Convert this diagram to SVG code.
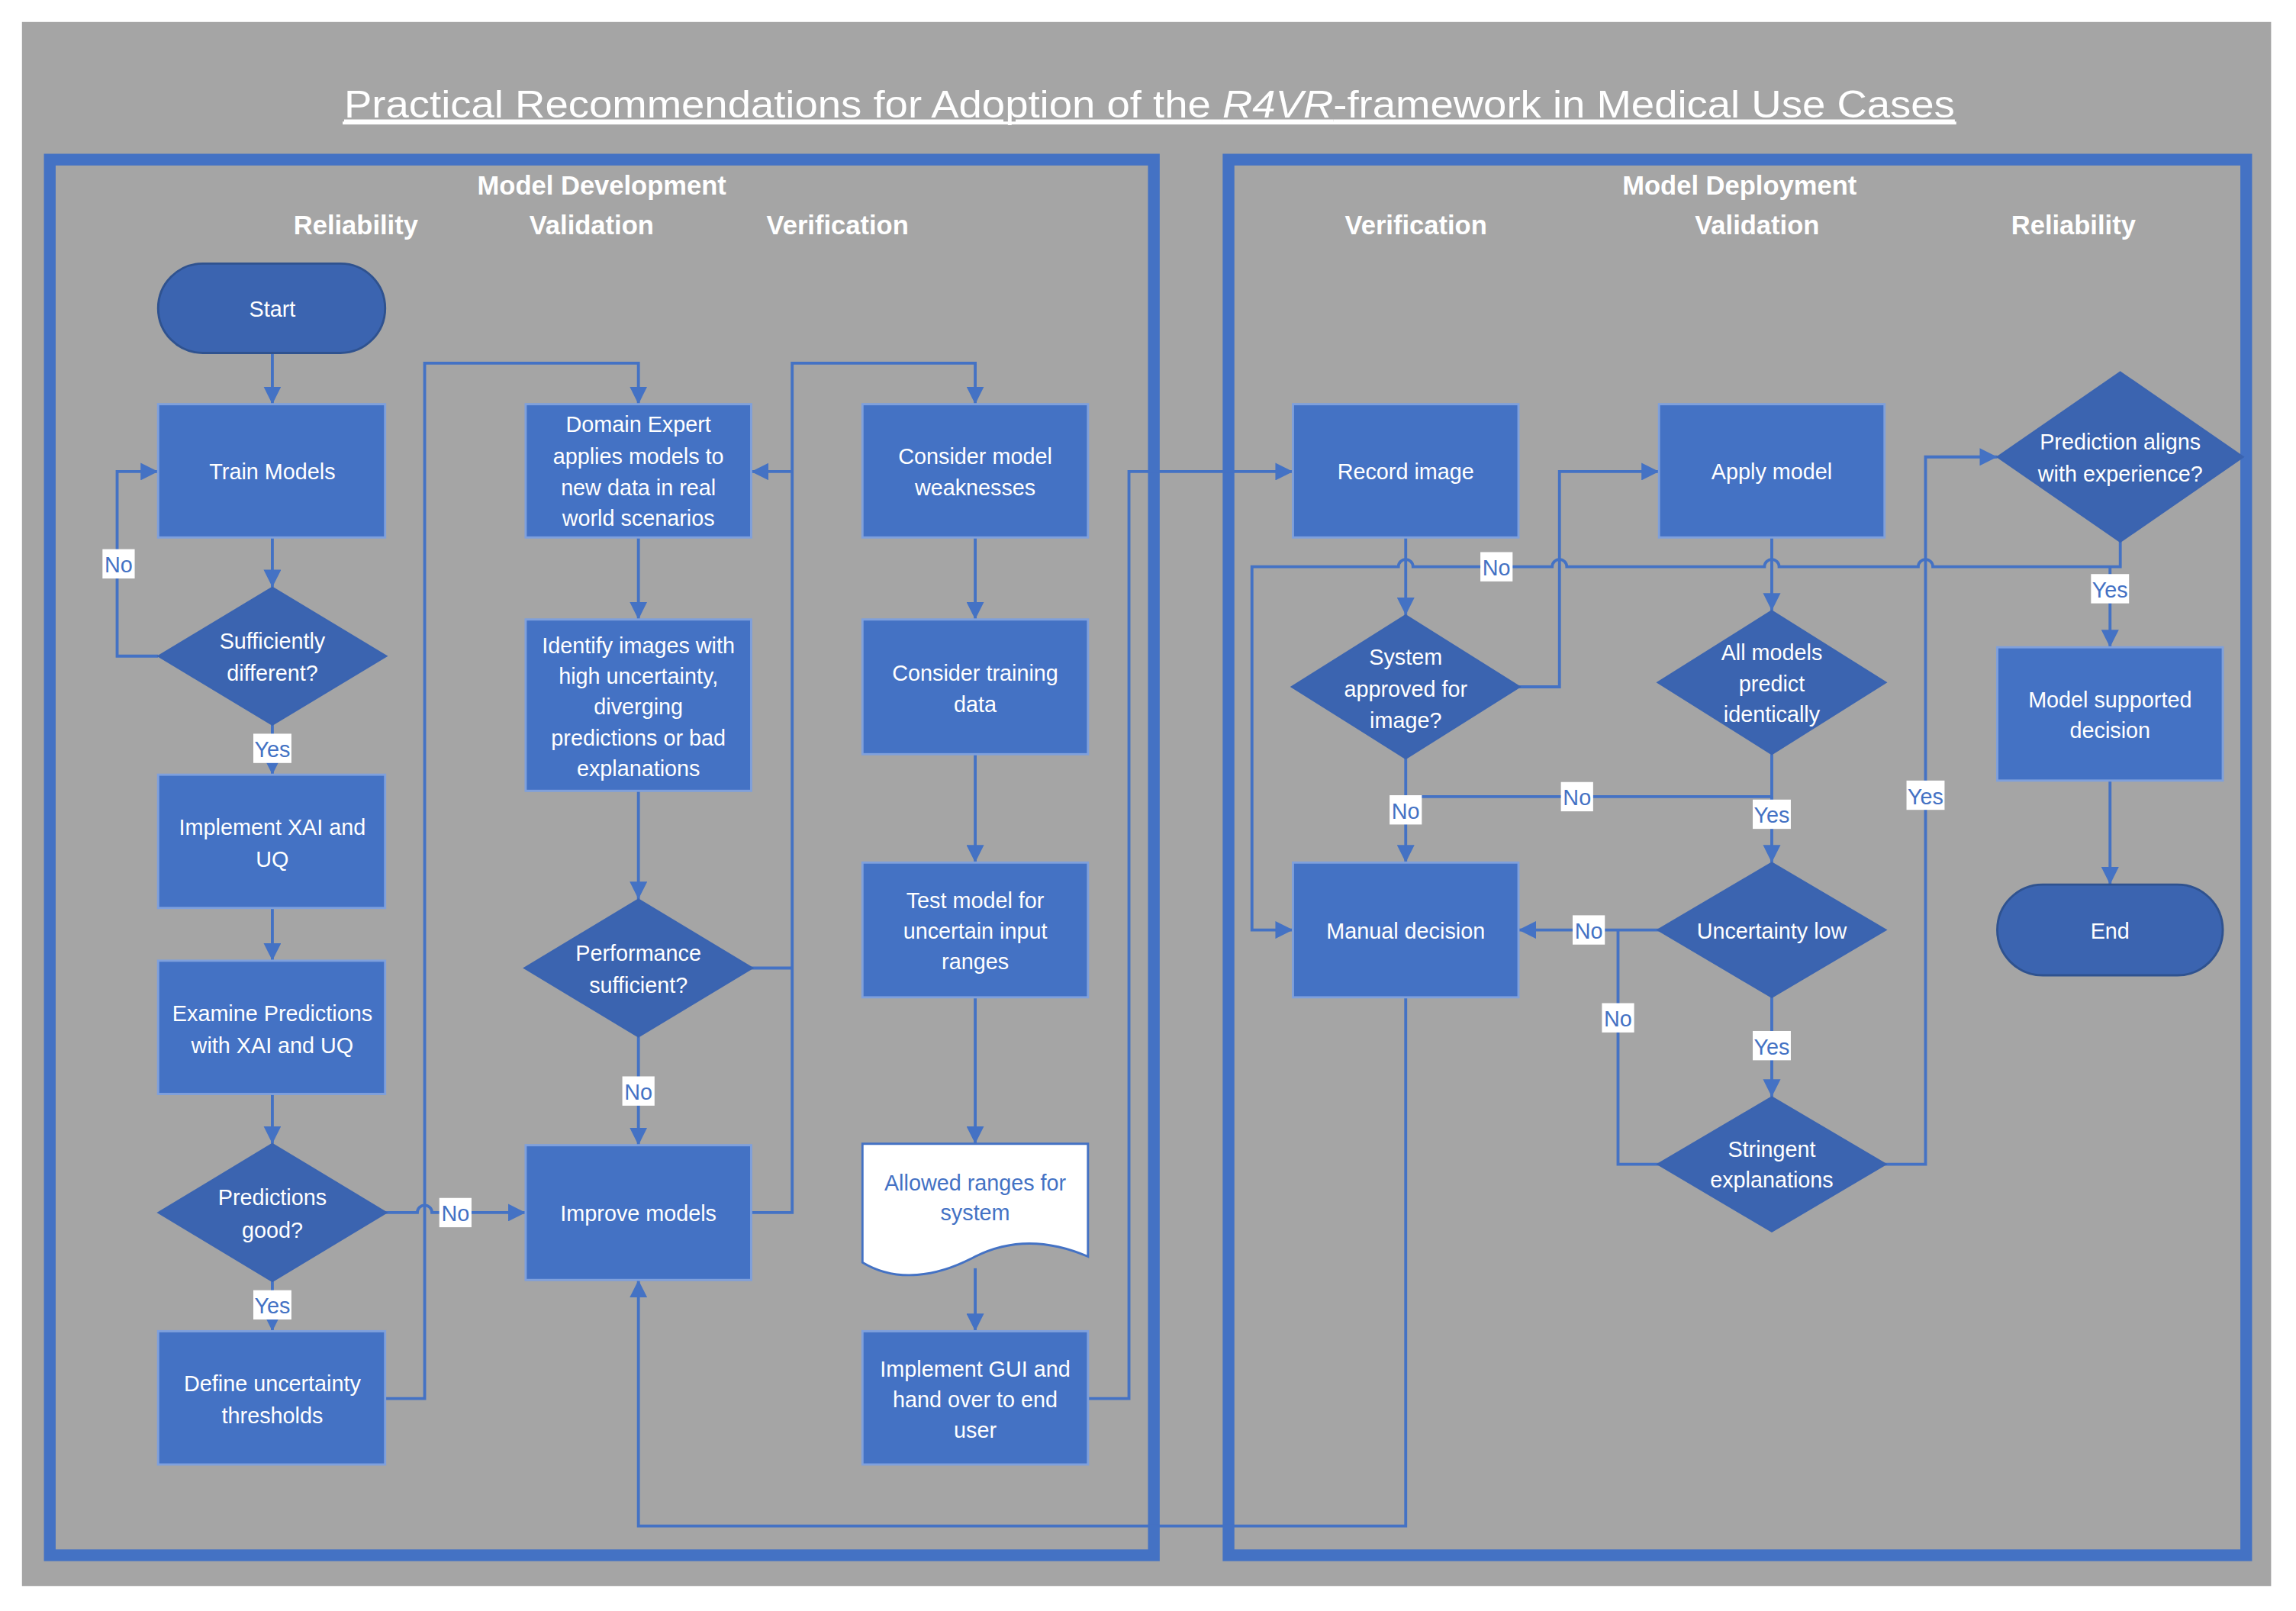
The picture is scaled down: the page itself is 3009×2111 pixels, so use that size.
<svg xmlns="http://www.w3.org/2000/svg" width="3009" height="2111" viewBox="0 0 3009 2111">
<defs>
<style>
.box{fill:#4472c4;stroke:#7fa0dc;stroke-width:1.5}
.term{fill:#3b64b0;stroke:#2f528f;stroke-width:1.5}
.dia{fill:#3b64b0;stroke:#3b64b0;stroke-width:1}
.t{font-family:"Liberation Sans",Arial,sans-serif;font-size:15px;fill:#ffffff;text-anchor:middle}
.h{font-family:"Liberation Sans",Arial,sans-serif;font-size:18px;font-weight:bold;fill:#ffffff;text-anchor:middle}
.c{fill:none;stroke:#4472c4;stroke-width:2}
.lb{fill:#ffffff}
.lt{font-family:"Liberation Sans",Arial,sans-serif;font-size:15px;fill:#4472c4;text-anchor:middle}
</style>
<marker id="a" viewBox="0 0 10 10" refX="10" refY="5" markerWidth="12" markerHeight="12" markerUnits="userSpaceOnUse" orient="auto"><path d="M0,0L10,5L0,10Z" fill="#4472c4"/></marker>
</defs>
<rect width="3009" height="2111" fill="#ffffff"/>
<g transform="scale(1.919)">
<rect x="15" y="15" width="1536" height="1068" fill="#a5a5a5"/>
<g id="title">
<text x="785" y="80" font-family="Liberation Sans,Arial,sans-serif" font-size="26" fill="#ffffff" text-anchor="middle" text-decoration="underline" textLength="1100" lengthAdjust="spacingAndGlyphs">Practical Recommendations for Adoption of the <tspan font-style="italic">R4VR</tspan>-framework in Medical Use Cases</text>
<rect x="234" y="83" width="1102" height="2" fill="#ffffff"/>
</g>
<g id="panels">
<rect x="34" y="109" width="754" height="953" fill="none" stroke="#4472c4" stroke-width="8"/>
<rect x="839" y="109" width="695" height="953" fill="none" stroke="#4472c4" stroke-width="8"/>
<text class="h" x="411" y="133">Model Development</text>
<text class="h" x="243" y="160">Reliability</text>
<text class="h" x="404" y="160">Validation</text>
<text class="h" x="572" y="160">Verification</text>
<text class="h" x="1188" y="133">Model Deployment</text>
<text class="h" x="967" y="160">Verification</text>
<text class="h" x="1200" y="160">Validation</text>
<text class="h" x="1416" y="160">Reliability</text>
</g>
<g id="connectors">
<path class="c" d="M186,241V276" marker-end="url(#a)"/>
<path class="c" d="M186,367V401" marker-end="url(#a)"/>
<path class="c" d="M108,448H80V322H108" marker-end="url(#a)"/>
<path class="c" d="M186,495V529" marker-end="url(#a)"/>
<path class="c" d="M186,620V656" marker-end="url(#a)"/>
<path class="c" d="M186,747V781" marker-end="url(#a)"/>
<path class="c" d="M186,875V909" marker-end="url(#a)"/>
<path class="c" d="M263,828H285A5,5 0 0 1 295,828H359" marker-end="url(#a)"/>
<path class="c" d="M263,955H290V248H436V276" marker-end="url(#a)"/>
<path class="c" d="M436,367V423" marker-end="url(#a)"/>
<path class="c" d="M436,540V614" marker-end="url(#a)"/>
<path class="c" d="M436,708V782" marker-end="url(#a)"/>
<path class="c" d="M513,661H541"/>
<path class="c" d="M513,828H541V248H666V276" marker-end="url(#a)"/>
<path class="c" d="M541,322H513" marker-end="url(#a)"/>
<path class="c" d="M666,367V423" marker-end="url(#a)"/>
<path class="c" d="M666,515V589" marker-end="url(#a)"/>
<path class="c" d="M666,681V781" marker-end="url(#a)"/>
<path class="c" d="M666,866V909" marker-end="url(#a)"/>
<path class="c" d="M743,955H771V322H883" marker-end="url(#a)"/>
<path class="c" d="M960,367V420" marker-end="url(#a)"/>
<path class="c" d="M1037,469H1065V322H1133" marker-end="url(#a)"/>
<path class="c" d="M960,518V589" marker-end="url(#a)"/>
<path class="c" d="M1210,367V417" marker-end="url(#a)"/>
<path class="c" d="M1210,515V544H960"/>
<path class="c" d="M1210,544V589" marker-end="url(#a)"/>
<path class="c" d="M1133,635H1037" marker-end="url(#a)"/>
<path class="c" d="M1133,795H1105V635"/>
<path class="c" d="M1210,681V749" marker-end="url(#a)"/>
<path class="c" d="M1287,795H1315V312H1364" marker-end="url(#a)"/>
<path class="c" d="M1448,370V387H1320A5,5 0 0 0 1310,387H1215A5,5 0 0 0 1205,387H1070A5,5 0 0 0 1060,387H965A5,5 0 0 0 955,387H855V635H883" marker-end="url(#a)"/>
<path class="c" d="M1441,387V442" marker-end="url(#a)"/>
<path class="c" d="M1441,533V604" marker-end="url(#a)"/>
<path class="c" d="M960,681V1042H436V874" marker-end="url(#a)"/>
<g>
<rect class="lb" x="70" y="375" width="22" height="20"/><text class="lt" x="81" y="391">No</text>
<rect class="lb" x="173" y="501" width="26" height="20"/><text class="lt" x="186" y="517">Yes</text>
<rect class="lb" x="173" y="881" width="26" height="20"/><text class="lt" x="186" y="897">Yes</text>
<rect class="lb" x="300" y="818" width="22" height="20"/><text class="lt" x="311" y="834">No</text>
<rect class="lb" x="425" y="735" width="22" height="20"/><text class="lt" x="436" y="751">No</text>
<rect class="lb" x="1011" y="377" width="22" height="20"/><text class="lt" x="1022" y="393">No</text>
<rect class="lb" x="949" y="543" width="22" height="20"/><text class="lt" x="960" y="559">No</text>
<rect class="lb" x="1066" y="534" width="22" height="20"/><text class="lt" x="1077" y="550">No</text>
<rect class="lb" x="1197" y="546" width="26" height="20"/><text class="lt" x="1210" y="562">Yes</text>
<rect class="lb" x="1074" y="625" width="22" height="20"/><text class="lt" x="1085" y="641">No</text>
<rect class="lb" x="1094" y="685" width="22" height="20"/><text class="lt" x="1105" y="701">No</text>
<rect class="lb" x="1197" y="704" width="26" height="20"/><text class="lt" x="1210" y="720">Yes</text>
<rect class="lb" x="1302" y="533" width="26" height="20"/><text class="lt" x="1315" y="549">Yes</text>
<rect class="lb" x="1428" y="392" width="26" height="20"/><text class="lt" x="1441" y="408">Yes</text>
</g>
</g>
<g id="start"><rect class="term" x="108" y="180" width="155" height="61" rx="30.5"/><text class="t" x="186" y="216">Start</text></g>
<g id="train"><rect class="box" x="108" y="276" width="155" height="91"/><text class="t" x="186" y="327">Train Models</text></g>
<g id="suff"><path class="dia" d="M186,401L264,448L186,495L108,448Z"/><text class="t" x="186" y="443">Sufficiently</text><text class="t" x="186" y="465">different?</text></g>
<g id="impl"><rect class="box" x="108" y="529" width="155" height="91"/><text class="t" x="186" y="570">Implement XAI and</text><text class="t" x="186" y="592">UQ</text></g>
<g id="exam"><rect class="box" x="108" y="656" width="155" height="91"/><text class="t" x="186" y="697">Examine Predictions</text><text class="t" x="186" y="719">with XAI and UQ</text></g>
<g id="pgood"><path class="dia" d="M186,781L264,828L186,875L108,828Z"/><text class="t" x="186" y="823">Predictions</text><text class="t" x="186" y="845">good?</text></g>
<g id="defu"><rect class="box" x="108" y="909" width="155" height="91"/><text class="t" x="186" y="950">Define uncertainty</text><text class="t" x="186" y="972">thresholds</text></g>
<g id="domain"><rect class="box" x="359" y="276" width="154" height="91"/><text class="t" x="436" y="295">Domain Expert</text><text class="t" x="436" y="317">applies models to</text><text class="t" x="436" y="338">new data in real</text><text class="t" x="436" y="359">world scenarios</text></g>
<g id="ident"><rect class="box" x="359" y="423" width="154" height="117"/><text class="t" x="436" y="446">Identify images with</text><text class="t" x="436" y="467">high uncertainty,</text><text class="t" x="436" y="488">diverging</text><text class="t" x="436" y="509">predictions or bad</text><text class="t" x="436" y="530">explanations</text></g>
<g id="perf"><path class="dia" d="M436,614L514,661L436,708L358,661Z"/><text class="t" x="436" y="656">Performance</text><text class="t" x="436" y="678">sufficient?</text></g>
<g id="improve"><rect class="box" x="359" y="782" width="154" height="92"/><text class="t" x="436" y="834">Improve models</text></g>
<g id="weak"><rect class="box" x="589" y="276" width="154" height="91"/><text class="t" x="666" y="317">Consider model</text><text class="t" x="666" y="338">weaknesses</text></g>
<g id="tdata"><rect class="box" x="589" y="423" width="154" height="92"/><text class="t" x="666" y="465">Consider training</text><text class="t" x="666" y="486">data</text></g>
<g id="test"><rect class="box" x="589" y="589" width="154" height="92"/><text class="t" x="666" y="620">Test model for</text><text class="t" x="666" y="641">uncertain input</text><text class="t" x="666" y="662">ranges</text></g>
<g id="allowed"><path d="M589,781H743V858C715,846 690,846 666,858C640,872 612,876 589,862Z" fill="#ffffff" stroke="#4472c4" stroke-width="1.5"/><text class="lt" x="666" y="813">Allowed ranges for</text><text class="lt" x="666" y="833">system</text></g>
<g id="gui"><rect class="box" x="589" y="909" width="154" height="91"/><text class="t" x="666" y="940">Implement GUI and</text><text class="t" x="666" y="961">hand over to end</text><text class="t" x="666" y="982">user</text></g>
<g id="record"><rect class="box" x="883" y="276" width="154" height="91"/><text class="t" x="960" y="327">Record image</text></g>
<g id="sysap"><path class="dia" d="M960,420L1038,469L960,518L882,469Z"/><text class="t" x="960" y="454">System</text><text class="t" x="960" y="476">approved for</text><text class="t" x="960" y="497">image?</text></g>
<g id="manual"><rect class="box" x="883" y="589" width="154" height="92"/><text class="t" x="960" y="641">Manual decision</text></g>
<g id="apply"><rect class="box" x="1133" y="276" width="154" height="91"/><text class="t" x="1210" y="327">Apply model</text></g>
<g id="allm"><path class="dia" d="M1210,417L1288,466L1210,515L1132,466Z"/><text class="t" x="1210" y="451">All models</text><text class="t" x="1210" y="472">predict</text><text class="t" x="1210" y="493">identically</text></g>
<g id="unc"><path class="dia" d="M1210,589L1288,635L1210,681L1132,635Z"/><text class="t" x="1210" y="641">Uncertainty low</text></g>
<g id="string"><path class="dia" d="M1210,749L1288,795L1210,841L1132,795Z"/><text class="t" x="1210" y="790">Stringent</text><text class="t" x="1210" y="811">explanations</text></g>
<g id="pred"><path class="dia" d="M1448,254L1532,312L1448,370L1364,312Z"/><text class="t" x="1448" y="307">Prediction aligns</text><text class="t" x="1448" y="329">with experience?</text></g>
<g id="msd"><rect class="box" x="1364" y="442" width="154" height="91"/><text class="t" x="1441" y="483">Model supported</text><text class="t" x="1441" y="504">decision</text></g>
<g id="end"><rect class="term" x="1364" y="604" width="154" height="62" rx="31"/><text class="t" x="1441" y="641">End</text></g>
</g>
</svg>
